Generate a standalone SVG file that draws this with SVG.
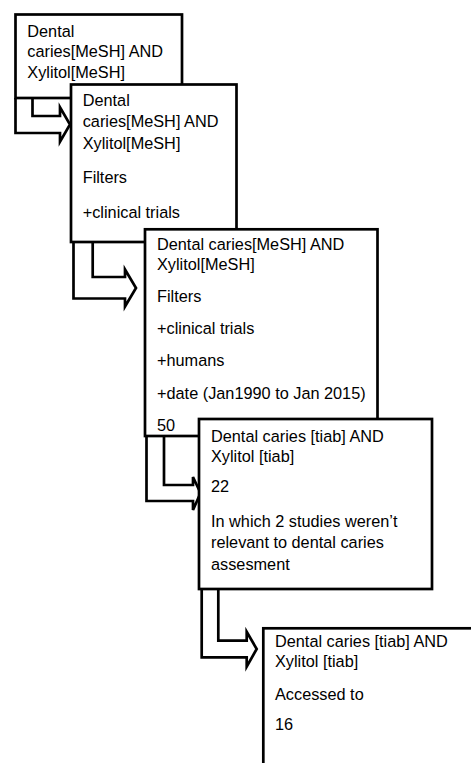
<svg xmlns="http://www.w3.org/2000/svg" width="471" height="763" viewBox="0 0 471 763">
<style>
.box{fill:#fff;stroke:#000;stroke-width:2.7}
.arr{fill:none;stroke:#000;stroke-width:2.7;stroke-linejoin:miter}
text{font-family:"Liberation Sans",Arial,sans-serif;font-size:16.3px;fill:#000}
</style>
<rect width="471" height="763" fill="#fff"/>
<g id="connectors">
<path class="arr" d="M32.5,98 V116 H60 V107.3 L70,124.5 L60,141.7 V133 H15.5 V98"/>
<path class="arr" d="M92.7,242 V277 H125 V269.5 L136,288 L125,306.5 V298.5 H73.5 V242"/>
<path class="arr" d="M164,436 V485 H193 V477 L200.5,493 L193,510 V501 H146.5 V436"/>
<path class="arr" d="M218.3,589 V640.7 H246.7 V631.7 L256.7,649 L246.7,666.7 V657.3 H201.7 V589"/>
</g>
<g id="node1">
<rect class="box" x="15.5" y="14.5" width="166.5" height="83.5"/>
<text x="27.3" y="36.7">Dental</text>
<text x="27.3" y="56.7">caries[MeSH] AND</text>
<text x="27.3" y="78.3">Xylitol[MeSH]</text>
</g>
<g id="node2">
<rect class="box" x="71" y="84.5" width="165.5" height="157.5"/>
<text x="82.7" y="105.5">Dental</text>
<text x="82.7" y="127">caries[MeSH] AND</text>
<text x="82.7" y="149">Xylitol[MeSH]</text>
<text x="82.7" y="183.3">Filters</text>
<text x="82.7" y="218">+clinical trials</text>
</g>
<g id="node3">
<rect class="box" x="145" y="229.3" width="232.5" height="206.7"/>
<text x="157" y="249.5">Dental caries[MeSH] AND</text>
<text x="157" y="270">Xylitol[MeSH]</text>
<text x="157" y="302">Filters</text>
<text x="157" y="334">+clinical trials</text>
<text x="157" y="366">+humans</text>
<text x="157" y="398.5">+date (Jan1990 to Jan 2015)</text>
<text x="157" y="431">50</text>
</g>
<g id="node4">
<rect class="box" x="199" y="419" width="233" height="170"/>
<text x="211" y="441.5">Dental caries [tiab] AND</text>
<text x="211" y="461.5">Xylitol [tiab]</text>
<text x="211" y="491.7">22</text>
<text x="211" y="526.7">In which 2 studies weren’t</text>
<text x="211" y="547.7">relevant to dental caries</text>
<text x="211" y="569.5">assesment</text>
</g>
<g id="node5">
<rect class="box" x="263.3" y="628.3" width="230" height="160"/>
<text x="275" y="646.5">Dental caries [tiab] AND</text>
<text x="275" y="666.5">Xylitol [tiab]</text>
<text x="275" y="700">Accessed to</text>
<text x="275" y="729.5">16</text>
</g>
</svg>
